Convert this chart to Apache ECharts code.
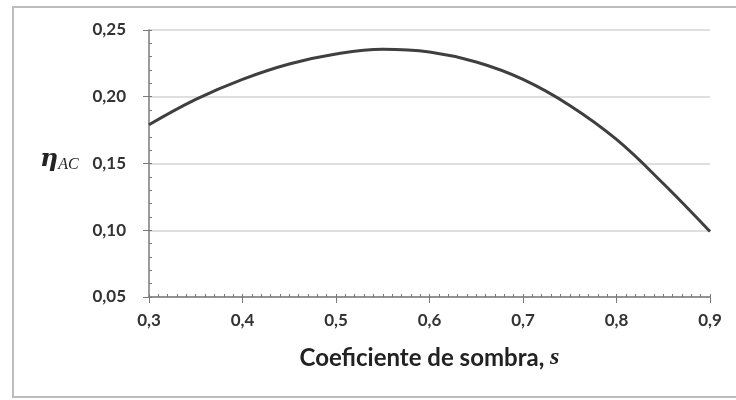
<!DOCTYPE html>
<html>
<head>
<meta charset="utf-8">
<script src="https://cdn.jsdelivr.net/npm/echarts@6/dist/echarts.min.js"></script>
<style>
  html, body { margin: 0; padding: 0; background: #fff; }
  #container { width: 736px; height: 400px; }
</style>
</head>
<body>
<div id="container"></div>
<script>
var sValues = [0.30, 0.35, 0.40, 0.45, 0.50, 0.55, 0.60, 0.65, 0.70, 0.75, 0.80, 0.85, 0.90];
var etaAC   = [0.179, 0.198, 0.213, 0.2245, 0.232, 0.2355, 0.2335, 0.226, 0.213, 0.1935, 0.168, 0.135, 0.099];
var xTicks = { min: 0.3, max: 0.9, step: 0.1 };
var yTicks = { min: 0.05, max: 0.25, step: 0.05 };

var dom = document.querySelector("#container");
var myChart = echarts.init(dom);

var pairs = sValues.map(function (s, i) { return [s, etaAC[i]]; });
var comma = function (d) {
    return function (v) { return v.toFixed(d).replace('.', ','); };
};
var font = 'Lato';

var option = {
    backgroundColor: '#fff',
    animation: false,
    grid: { left: 149, right: 26, top: 30, bottom: 103 },
    graphic: [
        {
            type: 'rect',
            shape: { x: 13, y: 7, width: 740, height: 390 },
            style: { fill: 'none', stroke: '#bdbdbd', lineWidth: 2 }
        },
        {
            type: 'text',
            left: 40, top: 147,
            style: {
                text: '{e|η}{s|AC}',
                rich: {
                    e: { fontFamily: 'DejaVu Serif', fontStyle: 'italic', fontWeight: 'bold', fontSize: 25, fill: '#222' },
                    s: { fontFamily: 'Liberation Serif', fontStyle: 'italic', fontSize: 16, fill: '#222', padding: [10, 0, 0, 0] }
                }
            }
        }
    ],
    xAxis: [
        {
            type: 'value',
            min: xTicks.min, max: xTicks.max, interval: xTicks.step,
            name: '{t|Coeficiente de sombra, }{s|s}',
            nameLocation: 'middle',
            nameGap: 49,
            nameTextStyle: {
                rich: {
                    t: { fontFamily: font, fontWeight: 'bold', fontSize: 24, color: '#222' },
                    s: { fontFamily: 'Liberation Serif', fontStyle: 'italic', fontWeight: 'bold', fontSize: 24, color: '#222' }
                }
            },
            axisLine: { lineStyle: { color: '#7a7a7a', width: 1.5 } },
            axisTick: { length: 6, lineStyle: { color: '#7a7a7a' } },
            axisLabel: { formatter: comma(1), fontFamily: font, fontWeight: 'bold', fontSize: 17, color: '#333', margin: 15 },
            splitLine: { show: false }
        },
        {
            type: 'value',
            position: 'bottom',
            min: xTicks.min, max: xTicks.max, interval: 0.01,
            axisLine: { show: false },
            axisTick: { inside: true, length: 3, lineStyle: { color: '#7a7a7a' } },
            axisLabel: { show: false },
            splitLine: { show: false }
        }
    ],
    yAxis: [
        {
            type: 'value',
            min: yTicks.min, max: yTicks.max, interval: yTicks.step,
            axisLine: { show: true, lineStyle: { color: '#7a7a7a', width: 1.5 } },
            axisTick: { show: true, length: 6, lineStyle: { color: '#7a7a7a' } },
            axisLabel: { formatter: comma(2), fontFamily: font, fontWeight: 'bold', fontSize: 17, color: '#333', margin: 23 },
            splitLine: { lineStyle: { color: '#d4d4d4', width: 1.5 } }
        },
        {
            type: 'value',
            position: 'left',
            min: yTicks.min, max: yTicks.max, interval: 0.01,
            axisLine: { show: false },
            axisTick: { show: true, inside: true, length: 3, lineStyle: { color: '#7a7a7a' } },
            axisLabel: { show: false },
            splitLine: { show: false }
        }
    ],
    series: [{
        type: 'line',
        data: pairs,
        smooth: 0.4,
        smoothMonotone: 'none',
        showSymbol: false,
        lineStyle: { color: '#3f3f3f', width: 3 }
    }]
};

myChart.setOption(option);
</script>
</body>
</html>
